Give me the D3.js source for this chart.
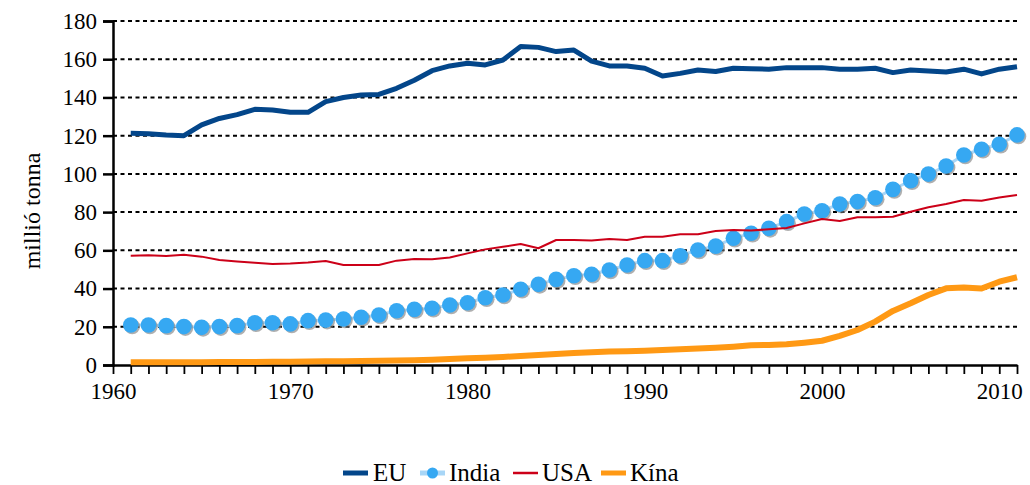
<!DOCTYPE html>
<html><head><meta charset="utf-8">
<style>
body { margin: 0; font-family: "Liberation Serif", "Times New Roman", serif; }
svg text { font-family: "Liberation Serif", "Times New Roman", serif !important; }
</style>
<script src="https://cdn.jsdelivr.net/npm/d3@7"></script></head>
<body>
<svg id="s" width="1030" height="485" style="font-family: 'Liberation Serif', 'Times New Roman', serif"></svg>
<script>
const years = d3.range(1961, 2012);
const yTicks = [0, 20, 40, 60, 80, 100, 120, 140, 160, 180];
const xLabels = [1960, 1970, 1980, 1990, 2000, 2010];
const seriesNames = ["EU", "India", "USA", "Kína"];

const eu = [121.2,121,120.3,120,125.6,129,131,133.8,133.4,132.2,
  132.2,137.8,140,141.3,141.6,144.8,149,154,156.5,157.9,
  157,159.6,166.6,166.2,164,164.8,159,156.5,156.5,155.3,
  151.2,152.6,154.4,153.6,155.3,155,154.8,155.6,155.6,155.6,
  154.8,154.8,155.3,153,154.4,153.8,153.3,154.8,152.3,154.8,156.1];
const india = [20.9,20.9,20.6,20.1,19.7,20.1,20.6,22.1,22.1,21.5,
  23.2,23.5,24.1,25,26.2,28.4,29.1,29.7,31.4,32.6,
  35.2,36.6,39.6,42.2,44.8,46.7,47.5,49.7,52.3,54.6,
  54.6,57.2,60.2,62.2,66.3,68.9,71.5,75,79,80.7,
  84.2,85.5,87.5,91.9,96.4,99.9,104.1,109.9,112.9,115.5,120.4];
const usa = [57.2,57.4,57,57.7,56.7,54.9,54.1,53.5,52.9,53.1,
  53.6,54.4,52.3,52.3,52.3,54.6,55.5,55.3,56.3,58.4,
  60.5,61.9,63.3,61.1,65.4,65.4,65.1,65.9,65.4,67.1,
  67.1,68.4,68.4,70.1,70.6,70.4,71,71.7,74.1,76.4,
  75.4,77.3,77.3,77.6,80.2,82.5,84.2,86.3,85.9,87.7,89];
const kina = [1.5,1.5,1.5,1.5,1.5,1.6,1.6,1.6,1.7,1.7,
  1.8,1.9,2.0,2.1,2.2,2.3,2.5,2.8,3.1,3.5,
  3.8,4.2,4.7,5.2,5.8,6.3,6.7,7.0,7.2,7.5,
  7.9,8.2,8.6,9.0,9.6,10.3,10.5,10.8,11.7,12.7,
  15.2,18.3,22.7,28.3,32.3,36.6,40.1,40.6,40,43.6,45.9];

const FONT = "'Liberation Serif', 'Times New Roman', serif";
const colors = { EU: "#03468a", India: "#36a8f2", IndiaLine: "#a8d6f7", USA: "#cc0018", "Kína": "#ff9914", shadow: "#7a7a7a" };

const svg = d3.select("#s");
const x = d3.scaleLinear().domain([1960, 2011]).range([113, 1017]);
const y = d3.scaleLinear().domain([0, 180]).range([365, 21]);

// gridlines
svg.append("g").selectAll("line").data(yTicks.filter(d => d > 0)).join("line")
  .attr("x1", x(1960)).attr("x2", x(2011))
  .attr("y1", d => y(d)).attr("y2", d => y(d))
  .attr("stroke", "#000").attr("stroke-width", 2).attr("stroke-dasharray", "4,3.5");

// y axis
const gy = svg.append("g").attr("transform", `translate(${x(1960)},0)`)
  .call(d3.axisLeft(y).tickValues(yTicks).tickSize(10).tickPadding(6));
gy.attr("font-family", null).attr("font-size", null);
gy.select(".domain").attr("stroke", "#000").attr("stroke-width", 2.5);
gy.selectAll(".tick line").attr("stroke", "#000").attr("stroke-width", 2.5);
gy.selectAll(".tick text").attr("font-family", FONT).style("font-family", FONT)
  .style("font-size", "23px").attr("fill", "#000");

// x axis
const gx = svg.append("g").attr("transform", `translate(0,${y(0)})`)
  .call(d3.axisBottom(x).tickValues(d3.range(1960, 2012)).tickSize(9).tickSizeOuter(0)
    .tickFormat(d => xLabels.includes(d) ? String(d) : ""));
gx.attr("font-family", null).attr("font-size", null);
gx.select(".domain").attr("stroke", "#000").attr("stroke-width", 2.5);
gx.selectAll(".tick line").attr("stroke", "#000").attr("stroke-width", 1.8);
gx.selectAll(".tick text").attr("font-family", FONT).style("font-family", FONT)
  .style("font-size", "23px").attr("fill", "#000").attr("dy", "0.95em");

// y title
svg.append("text").attr("transform", "translate(40,211) rotate(-90)")
  .attr("text-anchor", "middle").attr("font-family", FONT).style("font-family", FONT)
  .style("font-size", "24px").attr("fill", "#000").text("millió tonna");

const line = d3.line().x((d, i) => x(years[i])).y(d => y(d));

svg.append("path").datum(eu).attr("d", line).attr("fill", "none")
  .attr("stroke", colors.EU).attr("stroke-width", 5).attr("stroke-linejoin", "round");
svg.append("path").datum(india).attr("d", line).attr("fill", "none")
  .attr("stroke", colors.IndiaLine).attr("stroke-width", 3);
const dots = svg.append("g");
dots.selectAll("circle.sh").data(india).join("circle").attr("class", "sh")
  .attr("cx", (d, i) => x(years[i]) + 1.5).attr("cy", d => y(d) + 1.5).attr("r", 7.8)
  .attr("fill", colors.shadow).attr("opacity", 0.6);
dots.selectAll("circle.pt").data(india).join("circle").attr("class", "pt")
  .attr("cx", (d, i) => x(years[i])).attr("cy", d => y(d)).attr("r", 7.8)
  .attr("fill", colors.India);
svg.append("path").datum(usa).attr("d", line).attr("fill", "none")
  .attr("stroke", colors.USA).attr("stroke-width", 2).attr("stroke-linejoin", "round");
svg.append("path").datum(kina).attr("d", line).attr("fill", "none")
  .attr("stroke", colors["Kína"]).attr("stroke-width", 6).attr("stroke-linejoin", "round");

// legend
const legendItems = [
  { name: "EU", sx: 343, tx: 373 },
  { name: "India", sx: 420, tx: 449 },
  { name: "USA", sx: 513, tx: 542 },
  { name: "Kína", sx: 601, tx: 630 }
];
const lg = svg.append("g");
const ly = 473;
legendItems.forEach(it => {
  const c = it.name === "India" ? colors.IndiaLine : colors[it.name];
  lg.append("line").attr("x1", it.sx).attr("x2", it.sx + 25).attr("y1", ly).attr("y2", ly)
    .attr("stroke", c).attr("stroke-width", it.name === "USA" ? 2.5 : 5);
  if (it.name === "India") {
    lg.append("circle").attr("cx", it.sx + 12.5).attr("cy", ly).attr("r", 5.5).attr("fill", colors.India);
  }
  lg.append("text").attr("x", it.tx).attr("y", ly + 8).attr("font-family", FONT).style("font-family", FONT)
    .style("font-size", "25px").attr("fill", "#000").text(it.name);
});
</script>
</body>
</html>
